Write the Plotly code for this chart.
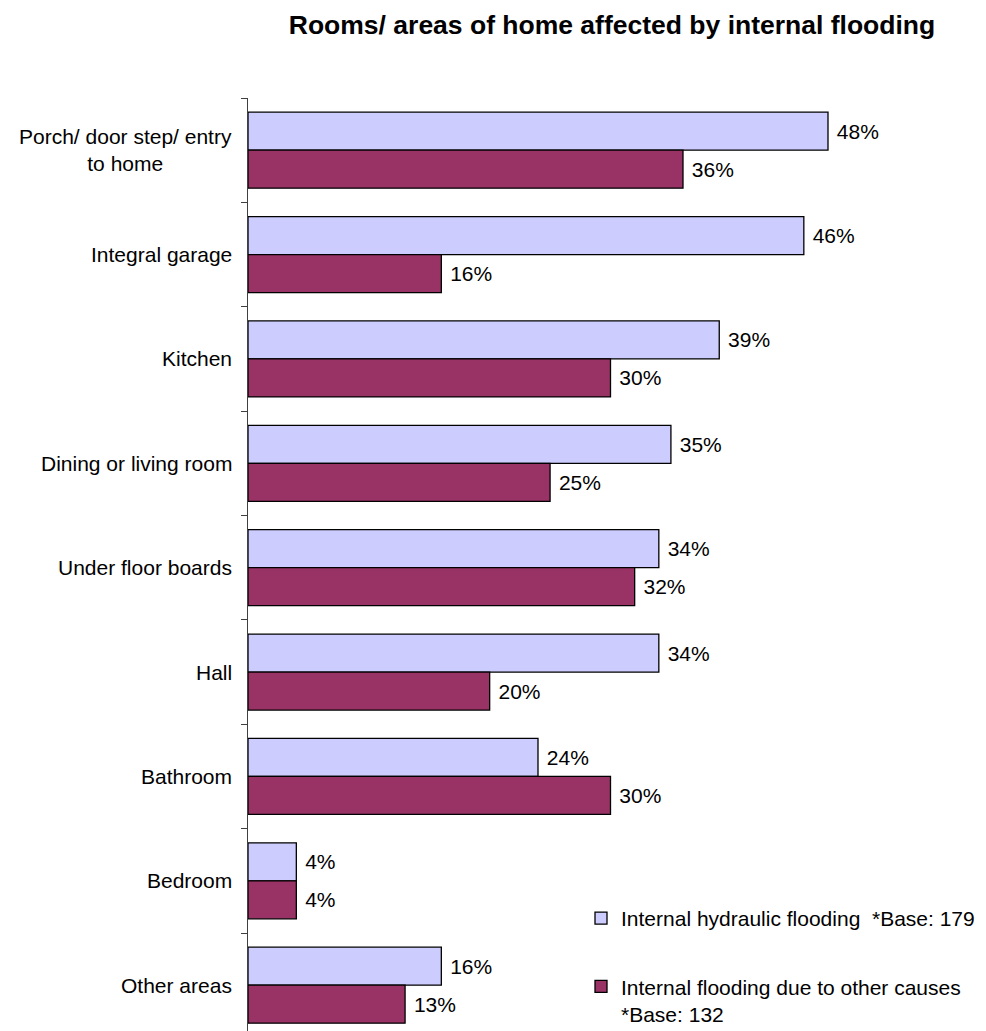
import plotly.graph_objects as go

categories = ["Porch/ door step/ entry<br>to home", "Integral garage", "Kitchen",
              "Dining or living room", "Under floor boards", "Hall", "Bathroom",
              "Bedroom", "Other areas"]
hydraulic = [48, 46, 39, 35, 34, 34, 24, 4, 16]
other = [36, 16, 30, 25, 32, 20, 30, 4, 13]
series_names = ["Internal hydraulic flooding  *Base: 179",
                "Internal flooding due to other causes<br>*Base: 132"]
title_text = "Rooms/ areas of home affected by internal flooding"

FONT = "Liberation Sans, Arial, sans-serif"
OFF = 8  # page body margin
W, H = 986 - OFF, 1031 - OFF
L, T = 248 - OFF, 98 - OFF

fig = go.Figure()
for vals, name, color, grp in [(hydraulic, series_names[0], "#CCCCFF", "a"),
                               (other, series_names[1], "#993366", "b")]:
    fig.add_trace(go.Bar(
        y=categories, x=vals, orientation="h", name=name,
        marker=dict(color=color, line=dict(color="black", width=1.3)),
        text=["\u00a0" + f"{v}%" for v in vals], textposition="outside",
        textfont=dict(family=FONT, size=21, color="black"),
        cliponaxis=False, constraintext="none", legendgroup=grp,
        hoverinfo="skip",
    ))

for c in categories:
    fig.add_annotation(x=0, xref="paper", y=c, yref="y", text=c, showarrow=False,
                       xanchor="right", yanchor="middle", align="center", xshift=-14,
                       font=dict(family=FONT, size=21, color="black"))

px_per_unit = (828 - 248) / 48.0
plot_w = W - L
plot_h = H - T
band = (933 - 98) / 8.0
ybottom = -0.5 + plot_h / band

fig.update_layout(
    width=W, height=H,
    margin=dict(l=L, r=0, t=T, b=0, autoexpand=False),
    paper_bgcolor="white", plot_bgcolor="white",
    barmode="group", bargap=0.272, bargroupgap=0,
    showlegend=True,
    title=dict(text="<b>" + title_text + "</b>", x=(612 - OFF) / W, xref="container",
               xanchor="center", y=1 - (25 - OFF) / H, yref="container", yanchor="middle",
               font=dict(family=FONT, size=26.5, color="black")),
    legend=dict(x=(581 - 248) / plot_w, xanchor="left", y=1 - (898 - 98) / plot_h,
                yanchor="top", font=dict(family=FONT, size=21, color="black"),
                bgcolor="rgba(0,0,0,0)", valign="top", tracegroupgap=38,
                traceorder="grouped"),
    xaxis=dict(range=[0, plot_w / px_per_unit], visible=False, fixedrange=True),
    yaxis=dict(range=[ybottom, -0.5], type="category", showline=True, linecolor="#404040",
               linewidth=1, ticks="outside", tickson="boundaries", ticklen=6,
               tickcolor="#404040", showticklabels=False, showgrid=False, zeroline=False),
)

fig.write_html("out.html")
